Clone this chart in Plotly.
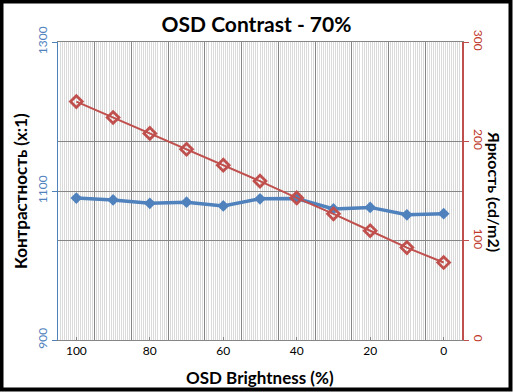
import plotly.graph_objects as go

categories = ["100", "90", "80", "70", "60", "50", "40", "30", "20", "10", "0"]
contrast = [1090.5, 1088, 1083.5, 1085, 1080, 1089.5, 1090, 1076, 1078, 1068, 1069.5]
brightness = [240, 224, 208, 192, 176, 160, 143, 127, 110, 93, 78]
xtick_labels = ["100", "80", "60", "40", "20", "0"]

xpos = list(range(len(categories)))
xtick_vals = [i for i, c in enumerate(categories) if c in xtick_labels]

BLUE = "#4F81BD"
RED = "#C0504D"
GRID = "#868686"
STRIPE = "#dadada"
FONT = "Lato"

W, H = 513, 392
ML, MR, MT, MB = 58, 51, 42, 52
PW, PH = W - ML - MR, H - MT - MB

fig = go.Figure()
# empty helper trace so the overlay x axis carrying the category grid is drawn
fig.add_trace(go.Scatter(x=[], y=[], xaxis="x2", yaxis="y", showlegend=False, hoverinfo="skip"))
fig.add_trace(go.Scatter(
    x=xpos, y=contrast, mode="lines+markers", name="Контрастность",
    line=dict(color=BLUE, width=3.5),
    marker=dict(symbol="diamond", size=9, color=BLUE),
    xaxis="x", yaxis="y", showlegend=False, cliponaxis=False))
fig.add_trace(go.Scatter(
    x=xpos, y=brightness, mode="lines+markers", name="Яркость",
    line=dict(color=RED, width=2),
    marker=dict(symbol="diamond-open", size=9, color=RED, line=dict(width=2.8, color=RED)),
    xaxis="x", yaxis="y2", showlegend=False, cliponaxis=False))

fig.update_layout(
    width=W, height=H,
    margin=dict(l=ML, r=MR, t=MT, b=MB),
    paper_bgcolor="white", plot_bgcolor="white",
    font=dict(family=FONT, size=12, color="black"),
    title=dict(text="<b>OSD Contrast - 70%</b>", x=0.5, xanchor="center",
               y=1 - 25 / H, yanchor="middle", font=dict(size=21, family=FONT)),
    xaxis=dict(
        range=[-0.5, len(categories) - 0.5],
        tickmode="array", tickvals=xtick_vals,
        ticktext=[categories[i] for i in xtick_vals],
        ticks="inside", ticklen=3, tickcolor=GRID,
        tickfont=dict(size=12, color="black", family=FONT),
        showgrid=False, zeroline=False,
        showline=True, linecolor=GRID, linewidth=1, mirror=True),
    xaxis2=dict(
        overlaying="x", anchor="y", side="bottom",
        range=[-0.5, len(categories) - 0.5],
        tickmode="linear", tick0=-0.5, dtick=1,
        showticklabels=False, ticks="",
        showgrid=True, gridcolor=GRID, gridwidth=1,
        minor=dict(tick0=-0.5, dtick=1 / 18, showgrid=True, gridcolor=STRIPE, gridwidth=1),
        zeroline=False, showline=False),
    yaxis=dict(
        range=[900, 1300], tickmode="linear", tick0=900, dtick=200,
        tickangle=-90, tickfont=dict(color=BLUE, size=12, family=FONT),
        ticks="outside", ticklen=5, tickcolor=BLUE,
        showgrid=True, gridcolor=GRID, gridwidth=1,
        showline=True, linecolor=BLUE, linewidth=1,
        zeroline=False),
    yaxis2=dict(
        range=[0, 300], tickmode="linear", tick0=0, dtick=100,
        overlaying="y", side="right", anchor="x",
        tickangle=90, tickfont=dict(color="#c0392b", size=12, family=FONT),
        ticks="outside", ticklen=5, tickcolor=RED,
        showgrid=True, gridcolor=GRID, gridwidth=1,
        showline=True, linecolor=RED, linewidth=1.5,
        zeroline=False),
    annotations=[
        dict(text="<b>Контрастность (x:1)</b>", xref="paper", yref="paper",
             x=-(ML - 20) / PW, y=0.5, textangle=-90, showarrow=False,
             xanchor="center", yanchor="middle", font=dict(size=17, family=FONT)),
        dict(text="<b>Яркость (cd/m2)</b>", xref="paper", yref="paper",
             x=1 + (495 - (ML + PW)) / PW, y=0.5, textangle=90, showarrow=False,
             xanchor="center", yanchor="middle", font=dict(size=16, family=FONT)),
        dict(text="<b>OSD Brightness (%)</b>", xref="paper", yref="paper",
             x=0.5, y=-(377 - (MT + PH)) / PH, showarrow=False,
             xanchor="center", yanchor="middle", font=dict(size=17, family=FONT)),
    ],
    shapes=[
        dict(type="rect", xref="paper", yref="paper",
             x0=-(ML - 1.5) / PW, x1=1 + (MR - 2.5) / PW,
             y0=-(MB - 2.5) / PH, y1=1 + (MT - 1.5) / PH,
             line=dict(color="black", width=4), fillcolor="rgba(0,0,0,0)", layer="above"),
    ],
)

fig.write_html("out.html", config={"displayModeBar": False},
               post_script="document.body.style.margin='0px';")
